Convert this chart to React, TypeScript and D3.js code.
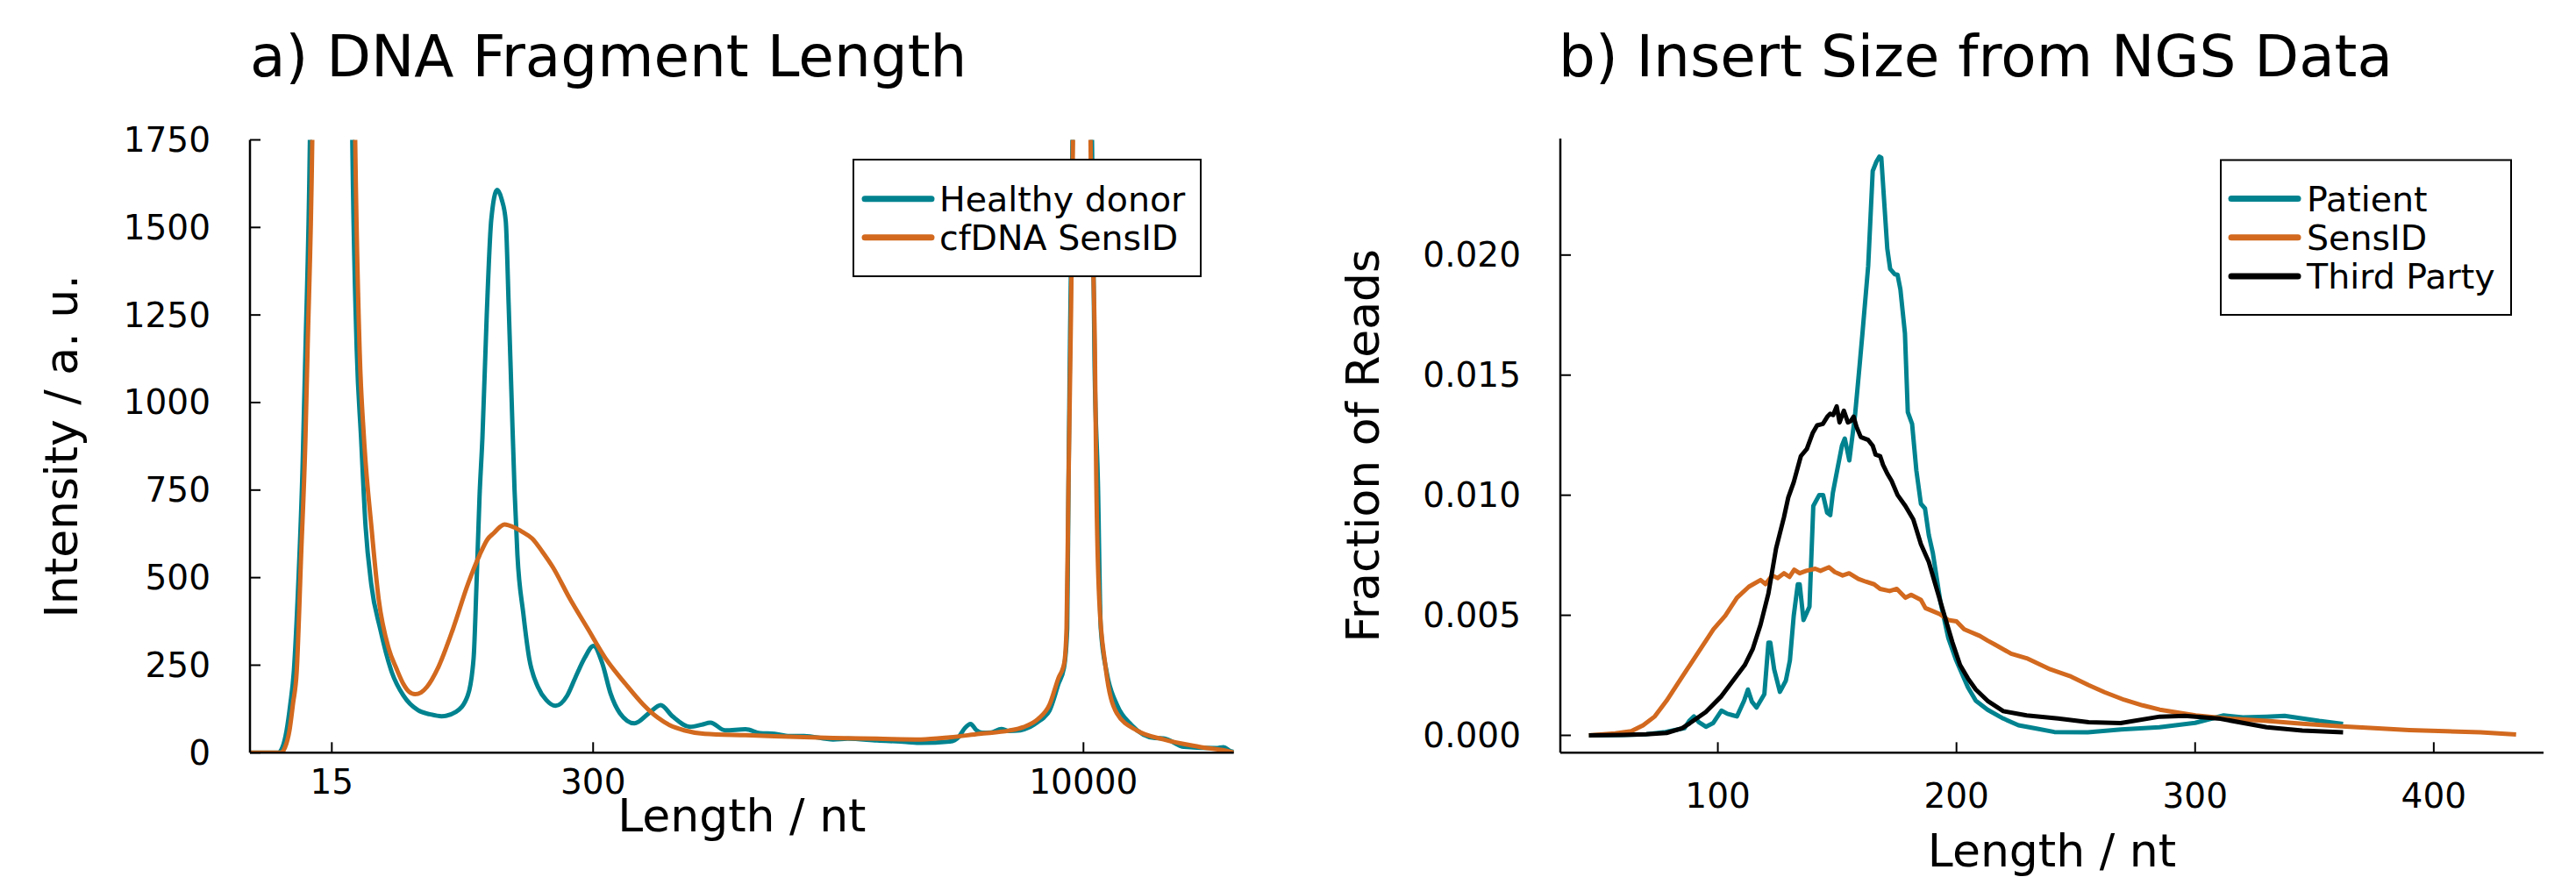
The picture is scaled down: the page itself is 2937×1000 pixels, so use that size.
import React from "react";
import * as d3 from "d3";

// ---------- Panel a: electropherogram (x = migration time, s) ----------
const healthyDonor: [number, number][] = [
  [40.0, 0], [41.0, 0], [42.14, 0], [42.47, 15], [42.79, 63], [43.08, 140], [43.34, 230], [43.68, 480],
  [44.01, 815], [44.23, 1149], [44.57, 1750], [44.88, 3000], [45.35, 4300], [46.18, 4700], [47.02, 4300],
  [47.49, 3000], [47.8, 1750], [48.14, 1149], [48.47, 899], [48.81, 648], [49.25, 480], [49.92, 355],
  [50.81, 230], [51.7, 163], [52.82, 121], [53.71, 110], [54.6, 104], [55.71, 117], [56.6, 163],
  [57.05, 271], [57.27, 480], [57.5, 731], [57.72, 899], [58.05, 1250], [58.39, 1520], [58.84, 1607],
  [59.19, 1580], [59.5, 1518], [59.72, 1280], [59.95, 1006], [60.17, 750], [60.39, 564], [60.84, 397],
  [61.28, 271], [61.95, 188], [62.6, 150], [63.29, 134], [64.18, 163], [64.81, 215], [65.52, 271],
  [66.19, 305], [66.86, 255], [67.48, 170], [68.2, 113], [69.31, 84], [70.42, 113], [71.31, 136],
  [72.21, 104], [73.54, 74], [74.43, 80], [75.1, 86], [76.22, 64], [77.78, 67], [78.89, 56], [80.0, 54],
  [81.12, 48], [82.24, 48], [84.46, 38], [85.58, 40], [87.81, 35], [90.01, 31], [91.15, 28], [93.36, 32],
  [94.05, 46], [94.49, 70], [94.94, 82], [95.36, 65], [95.83, 57], [96.5, 58], [97.28, 68], [97.84, 62],
  [98.73, 64], [99.37, 72], [100.06, 88], [100.51, 100], [100.96, 121], [101.63, 196], [102.07, 246],
  [102.3, 355], [102.4, 773], [102.52, 1200], [102.7, 1750], [102.92, 3200], [103.42, 4700], [103.92, 3200],
  [104.19, 1750], [104.39, 1100], [104.64, 773], [104.86, 355], [105.31, 230], [106.08, 138], [107.2, 79],
  [108.98, 42], [109.65, 41], [111.21, 17], [113.66, 13], [114.22, 16], [114.77, 4], [115.0, 2],
];

const cfDnaSensId: [number, number][] = [
  [40.0, 0], [42.34, 0], [42.67, 15], [43.01, 63], [43.28, 140], [43.56, 230], [43.9, 564], [44.23, 899],
  [44.39, 1149], [44.75, 1750], [45.08, 3000], [45.55, 4300], [46.39, 4700], [47.22, 4300], [47.69, 3000],
  [48.02, 1750], [48.36, 1149], [48.69, 899], [49.25, 648], [49.81, 439], [50.58, 297], [51.17, 240],
  [51.7, 196], [52.1, 175], [52.59, 167], [53.04, 172], [53.49, 188], [54.38, 246], [55.49, 355],
  [56.6, 480], [57.5, 564], [58.12, 610], [58.61, 628], [59.06, 645], [59.39, 652], [60.17, 643],
  [60.79, 630], [61.51, 612], [62.27, 575], [63.07, 531], [64.4, 439], [65.74, 355], [67.08, 271],
  [68.64, 196], [69.97, 138], [71.09, 100], [71.98, 79], [73.1, 64], [74.66, 54], [77.78, 50], [81.12, 46],
  [84.46, 42], [87.81, 40], [91.15, 38], [93.36, 44], [95.61, 54], [97.84, 63], [98.95, 73], [100.06, 96],
  [100.96, 138], [101.63, 213], [102.07, 255], [102.25, 355], [102.4, 773], [102.55, 1150], [102.74, 1750],
  [102.95, 3200], [103.46, 4700], [103.86, 3200], [104.08, 1750], [104.41, 1150], [104.52, 773],
  [104.74, 439], [105.19, 255], [106.08, 113], [107.64, 63], [109.65, 38], [112.33, 17], [114.77, 2.5],
  [115.0, 0],
];

const fragTickTimes = [46.24, 66.16, 103.54];
const fragTickLabels = ["15", "300", "10000"];
const intensityTicks = [0, 250, 500, 750, 1000, 1250, 1500, 1750];
const fragLegend = ["Healthy donor", "cfDNA SensID"];

// ---------- Panel b: insert size (fraction in per-mille) ----------
const patient: [number, number][] = [
  [46, 0], [60, 0.02], [70, 0.05], [78, 0.14], [82, 0.22], [86, 0.3], [88, 0.6], [90, 0.79], [92, 0.55],
  [95, 0.36], [98, 0.51], [101.5, 1.03], [104, 0.9], [106.5, 0.83], [108, 0.79], [111, 1.44], [112.6, 1.91],
  [114.3, 1.4], [116.2, 1.16], [119.5, 1.72], [121.2, 3.86], [122, 3.86], [123.6, 2.75], [126, 1.81],
  [128.5, 2.28], [130.2, 3.12], [131.8, 4.98], [133.5, 6.29], [134.3, 6.29], [135.9, 4.8], [138.4, 5.36],
  [140, 9.55], [142.5, 10.01], [144.1, 10.01], [145.8, 9.27], [147.1, 9.17], [148.2, 10.1], [150.2, 11.14],
  [152, 12.06], [153.2, 12.36], [155.1, 11.45], [157.5, 13.34], [159.4, 15.4], [160.6, 16.74],
  [163, 19.54], [164.9, 23.5], [166.5, 23.9], [167.7, 24.1], [168.5, 24.05], [171, 20.27], [172.2, 19.42],
  [174.1, 19.2], [175.3, 19.18], [176.5, 18.57], [178.4, 16.74], [179.6, 13.46], [181.4, 12.97],
  [183.2, 11.02], [185.1, 9.64], [186.8, 9.45], [188.4, 8.34], [190.1, 7.59], [193.3, 5.54], [196.6, 4.05],
  [199.9, 3.12], [204.8, 2.0], [208.1, 1.44], [213, 1.07], [219.6, 0.7], [226, 0.42], [233, 0.29],
  [241, 0.14], [255, 0.13], [269, 0.25], [285, 0.34], [300, 0.52], [312, 0.83], [320, 0.75], [330, 0.78],
  [337.5, 0.81], [345, 0.7], [352, 0.6], [362, 0.48],
];

const sensId: [number, number][] = [
  [46, 0], [57, 0.08], [63.7, 0.17], [68.7, 0.42], [73.6, 0.79], [78.5, 1.44], [83.4, 2.19], [88.3, 2.93],
  [93.3, 3.68], [98.2, 4.42], [103.1, 4.98], [108, 5.73], [113, 6.19], [117.9, 6.47], [120, 6.3],
  [122.8, 6.66], [125, 6.55], [127.7, 6.75], [130, 6.6], [132, 6.9], [134.3, 6.75], [137, 6.85],
  [140.8, 6.94], [143, 6.85], [146.6, 7.0], [149, 6.8], [152.3, 6.66], [155, 6.75], [158.9, 6.51],
  [162, 6.4], [165.5, 6.29], [168, 6.1], [172, 6.01], [175, 6.1], [178.6, 5.73], [181, 5.85], [185.1, 5.64],
  [187, 5.3], [190.1, 5.17], [193, 5.05], [196.6, 4.8], [200, 4.75], [203.2, 4.42], [206, 4.3],
  [209.8, 4.14], [213, 3.95], [216.3, 3.77], [222.9, 3.4], [229.4, 3.21], [239.3, 2.75], [248, 2.45],
  [255.4, 2.09], [262, 1.8], [270.3, 1.48], [278, 1.25], [285.2, 1.07], [300.2, 0.83], [315.1, 0.69],
  [330, 0.6], [345, 0.48], [359.9, 0.38], [375, 0.3], [389.7, 0.22], [405, 0.17], [419.6, 0.13],
  [434.5, 0.04],
];

const thirdParty: [number, number][] = [
  [46, 0], [60, 0.02], [70, 0.05], [78.5, 0.1], [85, 0.3], [88.3, 0.51], [94.9, 0.97], [101.5, 1.63],
  [106.4, 2.28], [111.3, 2.93], [114.6, 3.59], [117.9, 4.61], [121.2, 5.91], [124.4, 7.78], [127.7, 9.08],
  [129.5, 9.9], [131.8, 10.54], [134.8, 11.63], [137.3, 11.93], [139.8, 12.6], [141.6, 12.91], [144, 12.97],
  [145.9, 13.27], [147.1, 13.39], [148.3, 13.34], [149.8, 13.7], [151, 13.03], [152.8, 13.52],
  [154.5, 13.03], [155.7, 13.09], [156.9, 13.27], [158.1, 12.85], [159.9, 12.42], [163, 12.3],
  [164.9, 12.06], [166.1, 11.69], [168, 11.63], [169.2, 11.27], [171, 10.9], [172.8, 10.6], [175.3, 10.01],
  [178.6, 9.55], [181.9, 8.99], [185.1, 7.96], [188.4, 7.22], [191.7, 6.1], [195, 4.98], [198.3, 3.87],
  [201.5, 2.93], [204.8, 2.37], [208.1, 1.91], [213, 1.44], [219.6, 1.01], [229.4, 0.83], [242.6, 0.7],
  [255.4, 0.55], [268.8, 0.51], [285.2, 0.78], [295.7, 0.81], [310.6, 0.69], [330, 0.34], [344.9, 0.2],
  [362, 0.13],
];

const lengthTicks = [100, 200, 300, 400];
const fractionTicks = [0, 5, 10, 15, 20];
const fractionTickLabels = ["0.000", "0.005", "0.010", "0.015", "0.020"];
const ngsLegend = ["Patient", "SensID", "Third Party"];

// ---------- styling ----------
const TEAL = "#00838f";
const ORANGE = "#d2691e";
const BLACK = "#000000";
const FONT = "'DejaVu Sans', sans-serif";

const A = { left: 285, right: 1406.7, top: 159.5, bottom: 858.3 };
const B = { left: 1779, right: 2900, top: 158, bottom: 858.3 };

export default function App() {
  const xA = d3.scaleLinear().domain([40, 115]).range([A.left, A.right]);
  const yA = d3.scaleLinear().domain([0, 1750]).range([A.bottom, A.top]);
  const xB = d3.scaleLinear().domain([34, 446]).range([B.left, B.right]);
  const yB = d3.scaleLinear().domain([-0.723, 24.85]).range([B.bottom, B.top]);

  const lineA = d3
    .line<[number, number]>()
    .x((d) => xA(d[0]))
    .y((d) => yA(d[1]))
    .curve(d3.curveMonotoneX);
  const lineB = d3
    .line<[number, number]>()
    .x((d) => xB(d[0]))
    .y((d) => yB(d[1]));

  const tickFont = 39;
  const legendFont = 39.5;

  return (
    <svg
      width={2937}
      height={1000}
      style={{ position: "absolute", left: 0, top: 0, background: "#fff" }}
      fontFamily={FONT}
    >
      <rect x={0} y={0} width={2937} height={1000} fill="#fff" />
      <defs>
        <clipPath id="clipA">
          <rect x={A.left} y={A.top} width={A.right - A.left} height={A.bottom - A.top} />
        </clipPath>
        <clipPath id="clipB">
          <rect x={B.left} y={B.top} width={B.right - B.left} height={B.bottom - B.top} />
        </clipPath>
      </defs>

      {/* ---------------- Panel a ---------------- */}
      <text x={A.left} y={87} fontSize={66} fill="#000">
        a) DNA Fragment Length
      </text>
      <g clipPath="url(#clipA)" fill="none" strokeWidth={5} strokeLinejoin="round">
        <path d={lineA(healthyDonor) || ""} stroke={TEAL} />
        <path d={lineA(cfDnaSensId) || ""} stroke={ORANGE} />
      </g>
      {/* axes */}
      <line x1={A.left} x2={A.left} y1={A.top} y2={A.bottom} stroke="#000" strokeWidth={2.5} />
      <line x1={A.left} x2={A.right} y1={A.bottom} y2={A.bottom} stroke="#000" strokeWidth={2.5} />
      {intensityTicks.map((t) => (
        <g key={"ya" + t}>
          <line x1={A.left} x2={A.left + 12} y1={yA(t)} y2={yA(t)} stroke="#000" strokeWidth={2} />
          <text
            x={A.left - 45}
            y={yA(t)}
            fontSize={tickFont}
            textAnchor="end"
            dominantBaseline="central"
          >
            {t}
          </text>
        </g>
      ))}
      {fragTickTimes.map((t, i) => (
        <g key={"xa" + i}>
          <line x1={xA(t)} x2={xA(t)} y1={A.bottom} y2={A.bottom - 12} stroke="#000" strokeWidth={2} />
          <text x={xA(t)} y={905} fontSize={tickFont} textAnchor="middle">
            {fragTickLabels[i]}
          </text>
        </g>
      ))}
      <text x={(A.left + A.right) / 2} y={948} fontSize={52} textAnchor="middle">
        Length / nt
      </text>
      <text
        transform={`translate(88, ${(A.top + A.bottom) / 2}) rotate(-90)`}
        fontSize={52}
        textAnchor="middle"
      >
        Intensity / a. u.
      </text>
      {/* legend a */}
      <rect x={973} y={182} width={396} height={133} fill="#fff" stroke="#000" strokeWidth={2} />
      {fragLegend.map((name, i) => (
        <g key={"la" + i}>
          <line
            x1={986}
            x2={1062}
            y1={226.7 + i * 44}
            y2={226.7 + i * 44}
            stroke={i === 0 ? TEAL : ORANGE}
            strokeWidth={7}
            strokeLinecap="round"
          />
          <text x={1071} y={240.7 + i * 44} fontSize={legendFont}>
            {name}
          </text>
        </g>
      ))}

      {/* ---------------- Panel b ---------------- */}
      <text x={B.left - 2} y={87} fontSize={66} fill="#000">
        b) Insert Size from NGS Data
      </text>
      <g clipPath="url(#clipB)" fill="none" strokeWidth={5} strokeLinejoin="round">
        <path d={lineB(patient) || ""} stroke={TEAL} />
        <path d={lineB(sensId) || ""} stroke={ORANGE} />
        <path d={lineB(thirdParty) || ""} stroke={BLACK} />
      </g>
      <line x1={B.left} x2={B.left} y1={B.top} y2={B.bottom} stroke="#000" strokeWidth={2.5} />
      <line x1={B.left} x2={B.right} y1={B.bottom} y2={B.bottom} stroke="#000" strokeWidth={2.5} />
      {fractionTicks.map((t, i) => (
        <g key={"yb" + i}>
          <line x1={B.left} x2={B.left + 12} y1={yB(t)} y2={yB(t)} stroke="#000" strokeWidth={2} />
          <text
            x={B.left - 45}
            y={yB(t)}
            fontSize={tickFont}
            textAnchor="end"
            dominantBaseline="central"
          >
            {fractionTickLabels[i]}
          </text>
        </g>
      ))}
      {lengthTicks.map((t) => (
        <g key={"xb" + t}>
          <line x1={xB(t)} x2={xB(t)} y1={B.bottom} y2={B.bottom - 12} stroke="#000" strokeWidth={2} />
          <text x={xB(t)} y={921} fontSize={tickFont} textAnchor="middle">
            {t}
          </text>
        </g>
      ))}
      <text x={(B.left + B.right) / 2} y={988} fontSize={52} textAnchor="middle">
        Length / nt
      </text>
      <text
        transform={`translate(1572, ${(B.top + B.bottom) / 2}) rotate(-90)`}
        fontSize={52}
        textAnchor="middle"
      >
        Fraction of Reads
      </text>
      {/* legend b */}
      <rect x={2532} y={182.5} width={331} height={176.5} fill="#fff" stroke="#000" strokeWidth={2} />
      {ngsLegend.map((name, i) => (
        <g key={"lb" + i}>
          <line
            x1={2544}
            x2={2620}
            y1={226.5 + i * 44.3}
            y2={226.5 + i * 44.3}
            stroke={[TEAL, ORANGE, BLACK][i]}
            strokeWidth={7}
            strokeLinecap="round"
          />
          <text x={2630} y={240.5 + i * 44.3} fontSize={legendFont}>
            {name}
          </text>
        </g>
      ))}
    </svg>
  );
}
